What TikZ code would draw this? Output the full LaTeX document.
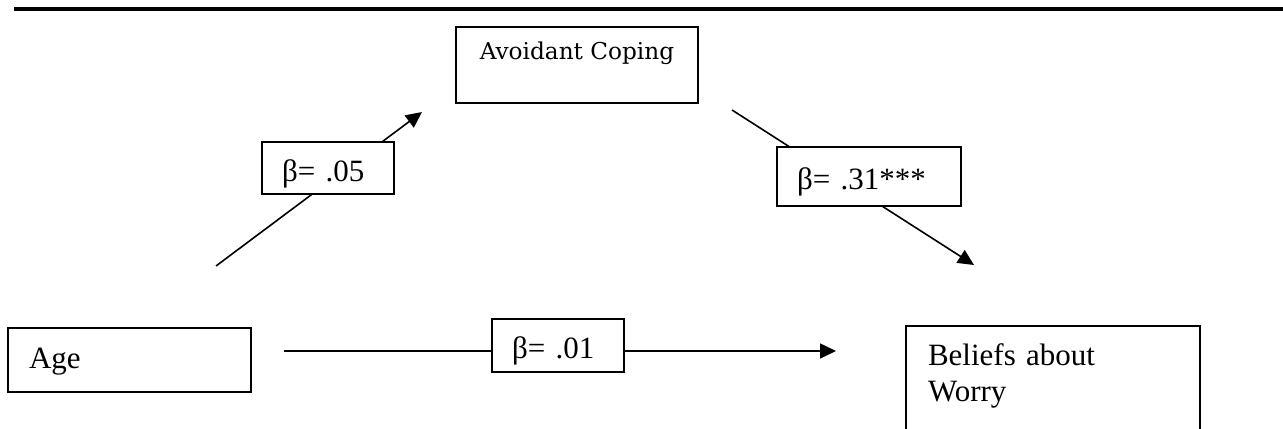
\documentclass[tikz,border=0pt]{standalone}
\usepackage{fontspec}
\setmainfont{Liberation Serif}
\newfontfamily\copingfont{DejaVu Serif}
\usetikzlibrary{arrows.meta}

\tikzset{
  varbox/.style={draw, line width=1pt, fill=white, align=left,
    font=\fontsize{15.5}{18}\selectfont},
  coeffbox/.style={draw, line width=1pt, fill=white, align=left,
    inner xsep=10pt, inner ysep=1pt, text height=17pt, text depth=4pt,
    font=\fontsize{15.5}{18}\selectfont},
  path/.style={line width=0.8pt, -{Triangle[length=8pt, width=7.5pt]}}
}

\begin{document}
\begin{tikzpicture}[x=0.5pt, y=-0.5pt]
    \useasboundingbox (0,0) rectangle (1283,428);
    \clip (0,0) rectangle (1283,428);

    % Rule across the top
    \draw[line width=2.2pt] (14,9) -- (1283,9);

    % Variables
    \node[varbox, minimum width=121.5pt, minimum height=32pt, text width=100.5pt, inner xsep=10.5pt, text height=12pt] (age) at (129.5,360) {Age};
    \node[draw, line width=1pt, minimum width=121pt, inner ysep=7.5pt, text depth=14pt, anchor=north,
      font=\copingfont\fontsize{11.6}{14}\selectfont] (coping) at (577,26) {Avoidant Coping};
    \node[varbox, anchor=north west, text width=125pt, inner xsep=11pt, inner ysep=9pt, text depth=50pt] (worry) at (905,325) {Beliefs about\\Worry};

    % Path end points
    \coordinate (ageRight) at (284,351);
    \coordinate (worryLeft) at (836,351);
    \coordinate (ageTop) at (216,266);
    \coordinate (copingLeft) at (422,112);
    \coordinate (copingRight) at (732,110);
    \coordinate (worryTop) at (974,265);

    % Paths
    \draw[path] (ageTop) -- (copingLeft);
    \draw[path] (copingRight) -- (worryTop);
    \draw[path] (ageRight) -- (worryLeft);

    % Coefficients
    \node[coeffbox, text width=46pt, minimum height=26pt] (a) at (328,168) {β= .05};
    \node[coeffbox, text width=72pt, minimum height=29.5pt] (b) at (869,176.5) {β= .31***};
    \node[coeffbox, text width=46pt, minimum height=26.5pt] (c) at (558,345.5) {β= .01};
\end{tikzpicture}
\end{document}
